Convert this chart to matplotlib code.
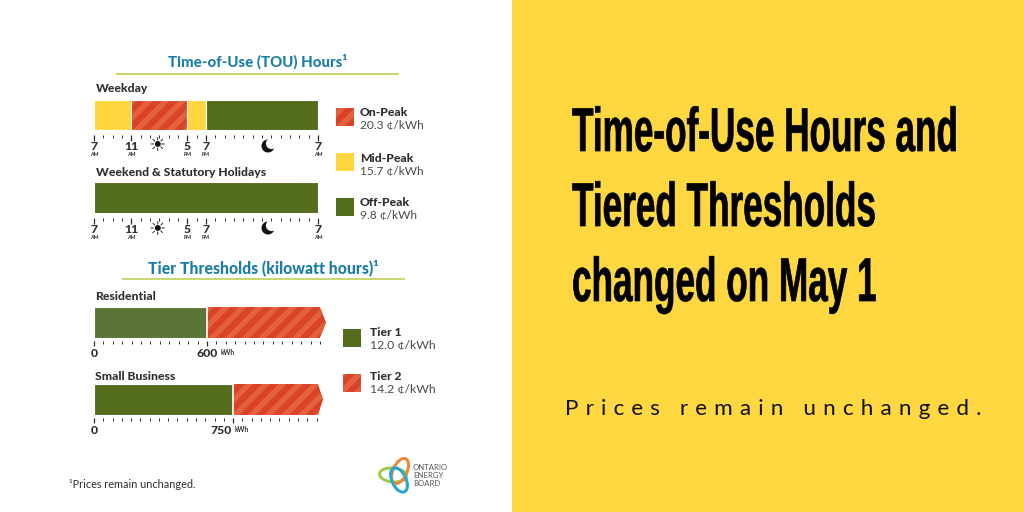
import matplotlib
matplotlib.use("Agg")
import matplotlib.pyplot as plt
import matplotlib.patheffects as pe
from matplotlib.patches import Rectangle, Ellipse, Circle
from matplotlib.transforms import Affine2D, ScaledTranslation

GREEN = "#546d1c"
RED = "#d8432a"
STRIPE = "#e4613c"
MID = "#ffd540"
PANEL = "#ffd740"
BLUE = "#1a7ea8"
RULE = "#c6d76c"
DARK = "#2f2f2f"

# hours after 7 AM
hour_ticks = [0, 4, 10, 12, 24]
hour_labels = ["7", "11", "5", "7", "7"]
hour_ampm = ["AM", "AM", "PM", "PM", "AM"]
weekday_start = [0, 4, 10, 12]
weekday_len = [4, 6, 2, 12]
weekday_kind = ["mid", "on", "mid", "off"]
weekend_start = [0]
weekend_len = [24]
weekend_kind = ["off"]

tou_names = ["On-Peak", "Mid-Peak", "Off-Peak"]
tou_prices = ["20.3 ¢/kWh", "15.7 ¢/kWh", "9.8 ¢/kWh"]
tier_names = ["Tier 1", "Tier 2"]
tier_prices = ["12.0 ¢/kWh", "14.2 ¢/kWh"]

res_threshold = 600
res_end = 1200
res_tip = 1232
biz_threshold = 750
biz_end = 1208
biz_tip = 1235

plt.rcParams["font.family"] = ["Lato", "DejaVu Sans"]
plt.rcParams["hatch.linewidth"] = 4.0
fig = plt.figure(figsize=(10.24, 5.12), dpi=100, facecolor="white")

page = fig.add_axes([0, 0, 1, 1])
page.set_xlim(0, 1024)
page.set_ylim(512, 0)
page.axis("off")


# no condensed font here, so tall letters are made by stretching the glyph paths
class Tall(pe.AbstractPathEffect):
    def __init__(self, k, lw):
        super().__init__()
        self.k = k
        self.lw = lw

    def draw_path(self, renderer, gc, tpath, affine, rgbFace=None):
        gc0 = renderer.new_gc()
        gc0.copy_properties(gc)
        gc0.set_linewidth(self.lw)
        gc0.set_foreground("black")
        renderer.draw_path(gc0, tpath, Affine2D().scale(1, self.k) + affine, rgbFace)
        gc0.restore()


def ax_at(x0, y0, x1, y1):
    a = fig.add_axes([x0 / 1024, 1 - y1 / 512, (x1 - x0) / 1024, (y1 - y0) / 512])
    a.patch.set_alpha(0)
    for s in a.spines.values():
        s.set_visible(False)
    a.set_yticks([])
    a.set_ylim(0, 1)
    return a


def paint(a, start, length, kind, edge="white"):
    if kind == "on":
        a.barh(0.5, length, 1, left=start, color=RED, hatch="//", edgecolor=STRIPE, lw=0)
        a.barh(0.5, length, 1, left=start, fill=False, edgecolor=edge, lw=0.8)
    else:
        col = MID if kind == "mid" else GREEN
        a.barh(0.5, length, 1, left=start, color=col, edgecolor=edge, lw=0.8)


page.add_patch(Rectangle((512, 0), 512, 512, color=PANEL, lw=0))


def hours_chart(x0, y0, x1, y1, starts, lens, kinds):
    a = ax_at(x0, y0, x1, y1)
    a.set_xlim(0, 24)
    for s, l, k in zip(starts, lens, kinds):
        paint(a, s, l, k)
    a.spines["bottom"].set_position(("outward", 3.5))
    a.set_xticks(hour_ticks, hour_labels, fontsize=8.8, fontweight="black", color=DARK)
    a.set_xticks(range(25), minor=True)
    a.tick_params(axis="x", which="major", length=4, width=0.9, color=DARK, pad=0.5)
    a.tick_params(axis="x", which="minor", length=1.8, width=0.7, color=DARK)
    tr = a.get_xaxis_transform()
    for h, t in zip(hour_ticks, hour_ampm):
        a.text(h, -0.80, t, transform=tr, fontsize=3.8, fontweight="bold", ha="center", va="center", color=DARK)
    a.text(6.75, -0.53, "☀", transform=tr, fontsize=14, ha="center", va="center", color="#111111", family="DejaVu Sans")
    return a


hours_chart(94, 100, 318, 130, weekday_start, weekday_len, weekday_kind)
hours_chart(94, 182, 318, 213, weekend_start, weekend_len, weekend_kind)


def tier_chart(x0, y0, x1, y1, threshold, end, tip, green, lab_off, lab_shift):
    a = ax_at(x0, y0, x1, y1)
    a.set_xlim(0, tip)
    a.barh(0.5, threshold, 1, left=0, color=green, edgecolor="white", lw=0.8)
    a.fill([threshold, end, tip, end, threshold], [0, 0, 0.5, 1, 1], facecolor=RED, hatch="//", edgecolor=STRIPE, lw=0)
    a.plot([threshold, threshold], [0, 1], color="white", lw=1.2)
    a.spines["bottom"].set_position(("outward", 2.5))
    a.set_xticks([0, threshold], ["0", str(threshold)], fontsize=8.8, fontweight="black", color=DARK)
    a.set_xticks(range(0, end + 1, 50), minor=True)
    a.tick_params(axis="x", which="major", length=3.5, width=0.9, color=DARK, pad=1)
    a.tick_params(axis="x", which="minor", length=1.8, width=0.7, color=DARK)
    lab = a.get_xticklabels()[1]
    lab.set_transform(lab.get_transform() + ScaledTranslation(lab_shift / 100, 0, fig.dpi_scale_trans))
    a.text(threshold + lab_off, -0.47, "kWh", transform=a.get_xaxis_transform(), fontsize=4.8, fontweight="bold", va="center", color=DARK)
    return a


tier_chart(94, 307, 326, 338, res_threshold, res_end, res_tip, "#5a7535", 74, 0)
tier_chart(94, 384, 323, 415, biz_threshold, biz_end, biz_tip, GREEN, 6, -12)

# moon is a disc with a white disc over it
for y in [146, 228]:
    page.add_patch(Circle((268, y), 6.5, color="#111111", lw=0))
    page.add_patch(Circle((271.5, y - 2.5), 5.6, color="white", lw=0))

# headings
page.text(258, 62, "Time-of-Use (TOU) Hours¹", fontsize=10.8, fontweight="black", color=BLUE, ha="center", va="center")
page.plot([117, 398], [74, 74], color=RULE, lw=1.4)
page.text(263, 268, "Tier Thresholds (kilowatt hours)¹", fontsize=11.3, fontweight="black", color=BLUE, ha="center", va="center")
page.plot([123, 404], [279, 279], color=RULE, lw=1.4)

for x, y, t in [(96, 88, "Weekday"), (96, 173, "Weekend & Statutory Holidays"), (95, 297, "Residential"), (95, 377, "Small Business")]:
    page.text(x, y, t, fontsize=8.7, fontweight="black", color=DARK, va="center")

# legends
for i, (n, p, k) in enumerate(zip(tou_names, tou_prices, ["on", "mid", "off"])):
    y = 108 + i * 45
    if k == "on":
        page.add_patch(Rectangle((336, y), 18, 18, facecolor=RED, hatch="//", edgecolor=STRIPE, lw=0))
    else:
        page.add_patch(Rectangle((336, y), 18, 18, color=MID if k == "mid" else GREEN, lw=0))
    page.text(360, y + 5, n, fontsize=8.7, fontweight="black", color=DARK, va="center")
    page.text(360, y + 18, p, fontsize=8.6, color="#4a4a4a", va="center")

for i, (n, p) in enumerate(zip(tier_names, tier_prices)):
    y = 329 + i * 45
    if i == 1:
        page.add_patch(Rectangle((343, y), 18, 18, facecolor=RED, hatch="//", edgecolor=STRIPE, lw=0))
    else:
        page.add_patch(Rectangle((343, y), 18, 18, color=GREEN, lw=0))
    page.text(370, y + 3, n, fontsize=8.7, fontweight="black", color=DARK, va="center")
    page.text(370, y + 16, p, fontsize=8.8, color="#4a4a4a", va="center")

page.text(69, 484, "¹Prices remain unchanged.", fontsize=7.8, color=DARK, va="center")

# logo
page.add_patch(Ellipse((393, 475), 27, 14, angle=5, fill=False, edgecolor="#a5c94a", lw=2.2))
page.add_patch(Ellipse((400, 471), 27, 14, angle=-65, fill=False, edgecolor="#e98a3c", lw=2.2))
page.add_patch(Ellipse((399, 480), 26, 14, angle=65, fill=False, edgecolor="#2ea6cf", lw=2.2))
for y, t in zip([467, 475.5, 484], ["ONTARIO", "ENERGY", "BOARD"]):
    page.text(413, y, t, fontsize=5.6, color="#555555", va="center")

# right panel
for y, t in zip([151, 226, 301], ["Time-of-Use Hours and", "Tiered Thresholds", "changed on May 1"]):
    page.text(572, y, t, fontsize=25.3, family="Liberation Sans", fontweight="bold", color="black", va="baseline",
              path_effects=[Tall(1.76, 0.5)])
page.text(565, 409, "Prices remain unchanged.".replace("", "\u2009\u2009\u200a").strip("\u2009\u200a"), fontsize=16.2, color="#111111", va="center", family=["Lato", "DejaVu Sans"])

fig.savefig("out.png", dpi=100)
